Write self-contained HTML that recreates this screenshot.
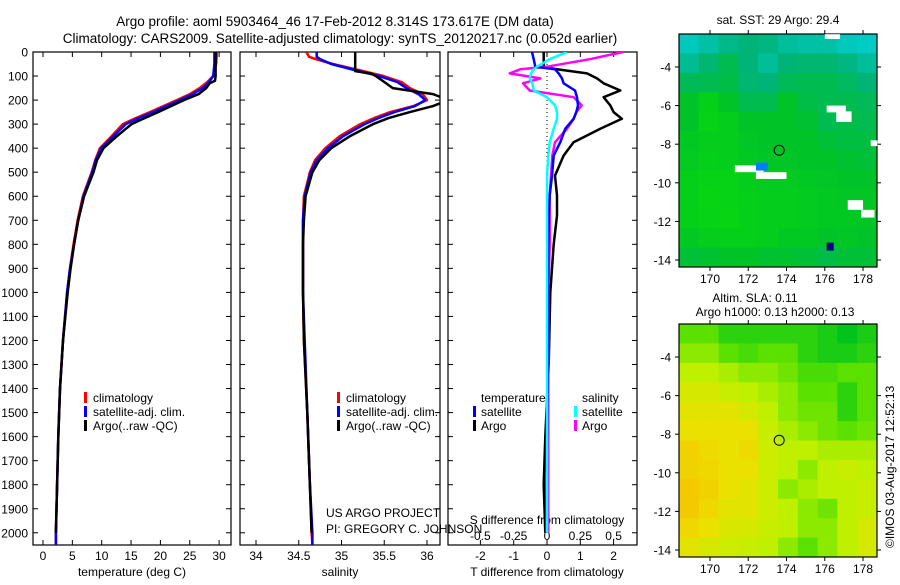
<!DOCTYPE html>
<html><head><meta charset="utf-8"><style>
body{margin:0;background:#fff;}
svg text{font-family:"Liberation Sans",sans-serif;fill:#000;}
</style></head><body>
<svg id="fig" width="900" height="580" xmlns="http://www.w3.org/2000/svg">
<text x="335" y="26" font-size="13.5" text-anchor="middle">Argo profile: aoml 5903464_46 17-Feb-2012 8.314S 173.617E (DM data)</text>
<text x="340" y="43" font-size="13.5" text-anchor="middle">Climatology: CARS2009. Satellite-adjusted climatology: synTS_20120217.nc (0.052d earlier)</text>
<g id="g"></g>
</svg>
<script>
// ---- profile data ----
const depths=[0,50,100,125,150,175,200,225,250,275,300,350,400,450,500,600,700,800,900,1000,1200,1400,1600,1800,2000,2050];
const tempClim=[29.6,29.5,29.0,28.0,26.7,25,22.8,20.5,18.2,15.8,13.6,11.7,9.7,8.9,8.3,6.8,5.9,5.2,4.6,4.1,3.4,2.9,2.6,2.4,2.2,2.2];
const tempSat=[29.2,29.2,29.0,28.3,27.2,25.5,23.3,21,18.7,16.3,14.1,12.0,9.9,9.0,8.4,6.9,6.0,5.3,4.6,4.1,3.4,2.9,2.6,2.4,2.2,2.2];
const argoDepths=[0,50,100,120,130,150,175,200,225,250,275,300,350,400,450,500,600,700,800,900,1000,1200,1400,1600,1800,2000];
const tempArgo=[29.4,29.4,29.4,29.3,28.4,27.8,26.5,24.0,21.8,19.6,17.3,15.1,12.6,10.3,9.2,8.6,7.0,6.0,5.3,4.7,4.2,3.4,2.9,2.6,2.4,2.2];
const salDepths=[0,20,30,50,75,100,125,150,175,200,225,250,275,300,350,400,450,500,600,700,800,1000,1200,1500,1800,2000,2050];
const salClim=[34.59,34.62,34.7,34.9,35.2,35.49,35.7,35.8,35.95,36.0,35.84,35.57,35.38,35.22,34.98,34.81,34.69,34.63,34.56,34.55,34.55,34.55,34.56,34.6,34.63,34.65,34.66];
const salSat=[34.71,34.71,34.75,34.88,35.15,35.44,35.65,35.76,35.9,35.98,35.86,35.62,35.43,35.27,35.02,34.84,34.71,34.64,34.57,34.55,34.55,34.55,34.57,34.6,34.63,34.66,34.66];
const argoSalDepths=[0,80,90,100,125,150,175,200,225,250,275,300,350,400,450,500,600,700,800,1000,1200,1500,1800,2000];
const salArgo=[35.16,35.16,35.35,35.4,35.5,35.6,36.07,36.25,36.07,35.8,35.55,35.37,35.1,34.88,34.74,34.66,34.58,34.56,34.55,34.55,34.56,34.6,34.63,34.65];
const diffDepths=[0,30,61,72,89,110,130,160,188,222,250,278,319,375,431,514,597,681,800,1000,1300,1600,1800,2000];
const dTSat=[-0.45,-0.4,-0.35,0.24,0.35,0.45,0.5,0.84,0.9,0.93,0.88,0.8,0.55,0.4,0.2,0.15,0.08,0.05,0.04,0.03,0.02,0.0,-0.02,-0.02];
const dTArgo=[-0.1,-0.1,-0.1,0.3,1.2,1.5,1.7,2.2,1.7,1.9,2.0,2.25,1.6,0.8,0.5,0.24,0.3,0.3,0.2,0.1,0.05,-0.05,-0.1,-0.05];
const dSSat=[0.15,0.02,-0.075,-0.1,-0.12,-0.13,-0.11,-0.1,0,0.06,0.075,0.075,0.05,0.02,0.01,0.0,0.0,0.0,0.0,0.0,0.0,0.0,0.0,0.0];
const dSArgo=[0.57,0.32,0.0,-0.2,-0.28,-0.05,-0.18,-0.13,0.2,0.26,0.22,0.2,0.15,0.06,0.04,0.03,0.02,0.02,0.02,0.01,0.01,0.01,0.01,0.01];
const depthTicks=[0,100,200,300,400,500,600,700,800,900,1000,1100,1200,1300,1400,1500,1600,1700,1800,1900,2000];
const tempTicks=[0,5,10,15,20,25,30];
const salTicks=[34,34.5,35,35.5,36];
const dTTicks=[-2,-1,0,1,2];
const dSTicks=[-0.5,-0.25,0,0.25,0.5];
const dSTickLabels=["-0.5","-0.25","0","0.25","0.5"];
// ---- map data ----
const lonTicks=[170,172,174,176,178];
const latTicks=[-4,-6,-8,-10,-12,-14];
const argoLon=173.617, argoLat=-8.314;
const sstGrid=[
[2.8,2.5,2.2,2.0,2.1,2.4,2.5,2.5,2.8,2.9],
[2.3,1.9,1.5,2.0,2.4,2.0,1.9,1.9,2.1,2.4],
[1.6,1.5,1.4,1.9,2.0,1.6,1.5,1.5,1.7,2.0],
[1,0.5,1,1.5,1.5,1,1.4,1.5,1.5,1.6],
[1,0.4,0.6,1,1,1,1.1,1.5,1.4,1.5],
[0.8,0.6,0.6,0.9,1,1,1,1.2,1.3,1.3],
[0.7,0.5,0.6,0.8,0.9,0.9,1,1,1.1,1.2],
[0.5,0.4,0.4,0.6,0.7,0.7,0.8,0.9,1,1],
[0.5,0.3,0.4,0.5,0.6,0.6,0.7,0.8,0.9,0.9],
[0.5,0.4,0.3,0.5,0.6,0.6,0.7,0.8,0.8,0.9],
[0.8,0.6,0.5,0.5,0.6,0.8,0.8,1,0.9,1],
[1.2,1.1,1,1,1.1,1.1,1.2,1.4,1.2,1.2]];
const slaGrid=[
[1,1,0.5,0.5,0.5,0.5,0.5,0.3,0,0.3],
[1.5,1.5,1,0.8,1,1,0.5,0.3,0.3,0.5],
[2,2,1.8,1.5,1.5,1.2,0.8,0.8,1,1],
[2.5,2.5,2.2,2,1.8,1.5,1,1,0.5,1],
[2.8,2.8,2.8,2.5,2,1.5,1.2,1.2,0.5,1],
[3,3,3,3,2.2,1.8,1.5,1.2,1,1.2],
[3.5,3.2,3,3.2,2.3,2,2,1.8,1.8,1.8],
[3.5,3.3,3,3,2.3,2,1.5,2,2.2,2],
[3.8,3.5,3,2.8,2.3,1.5,1.8,2,2,2.2],
[3.8,3.3,2.8,2.8,2.3,2,1.5,1.2,2,2.2],
[3.3,3,2.6,2.5,2.2,2,1.5,1.5,2,2.5],
[2.8,2.5,2.3,2.2,2,1.5,1,1.5,2,2.5]];
const sstGaps=[[171.3,-9.1,1.5,0.35],[172.4,-9.45,1.6,0.35],[176.1,-6.0,1.0,0.35],[176.6,-6.3,0.8,0.55],[177.2,-10.9,0.8,0.5],[177.9,-11.4,0.7,0.4],[176,-2.3,0.8,0.25],[178.4,-7.8,0.35,0.3]];

const NS="http://www.w3.org/2000/svg";
const G=document.getElementById('g');
function mk(tag,attrs,name,parent){const e=document.createElementNS(NS,tag);for(const k in attrs)e.setAttribute(k,attrs[k]);


(parent||G).appendChild(e);return e;}
function txt(x,y,s,name,opt){const t=mk('text',Object.assign({x:x,y:y,'font-size':12},opt||{}),name);t.textContent=s;return t;}
const yD=d=>52+d*0.2404;
const PT=52,PB=545;
function frame(l,r,name){mk('rect',{x:l,y:PT,width:r-l,height:PB-PT,fill:'none',stroke:'#000','stroke-width':1.2},name);}
function line(xs,ds,fx,color,name,w){let p='';for(let i=0;i<xs.length;i++){p+=(i?'L':'M')+fx(xs[i]).toFixed(1)+','+yD(ds[i]).toFixed(1);}
mk('path',{d:p,fill:'none',stroke:color,'stroke-width':w||2.5,'stroke-linejoin':'round'},name);}
// panel 1
const xT=t=>43+t*5.87;
frame(33,231,'temperature-panel-frame');
depthTicks.forEach(d=>{mk('line',{x1:33,x2:38,y1:yD(d),y2:yD(d),stroke:'#000'},'depth-tick');mk('line',{x1:226,x2:231,y1:yD(d),y2:yD(d),stroke:'#000'},'depth-tick-right');
txt(28,yD(d)+4.5,String(d),'depth-tick-label',{'text-anchor':'end'});});
tempTicks.forEach(t=>{mk('line',{x1:xT(t),x2:xT(t),y1:PT,y2:PT+5,stroke:'#000'},'temp-tick-top');mk('line',{x1:xT(t),x2:xT(t),y1:PB,y2:PB-5,stroke:'#000'},'temp-tick');
txt(xT(t),560,String(t),'temp-tick-label',{'text-anchor':'middle'});});
txt(132,576,'temperature (deg C)','x-axis-title-temperature',{'text-anchor':'middle'});
line(tempClim,depths,xT,'#ff0000','temp-climatology-line');
line(tempSat,depths,xT,'#0000ff','temp-satellite-line');
line(tempArgo,argoDepths,xT,'#000000','temp-argo-line');
function legend(x,name){[['#ff0000','climatology'],['#0000ff','satellite-adj. clim.'],['#000000','Argo(..raw -QC)']].forEach((e,i)=>{
mk('rect',{x:x,y:392+i*14,width:3,height:11,fill:e[0]},name+'-marker');txt(x+9,402+i*14,e[1],name+'-label');});}
legend(84,'temp-legend');
// panel 2
const xS=s=>256+(s-34)*85.5;
frame(240,440,'salinity-panel-frame');
depthTicks.forEach(d=>{mk('line',{x1:240,x2:245,y1:yD(d),y2:yD(d),stroke:'#000'},'sal-depth-tick');mk('line',{x1:435,x2:440,y1:yD(d),y2:yD(d),stroke:'#000'},'sal-depth-tick-right');});
salTicks.forEach(s=>{mk('line',{x1:xS(s),x2:xS(s),y1:PT,y2:PT+5,stroke:'#000'},'sal-tick-top');mk('line',{x1:xS(s),x2:xS(s),y1:PB,y2:PB-5,stroke:'#000'},'sal-tick');
txt(xS(s),560,String(s),'sal-tick-label',{'text-anchor':'middle'});});
txt(340,576,'salinity','x-axis-title-salinity',{'text-anchor':'middle'});
const svgEl=document.getElementById('fig');
const cp=mk('clipPath',{id:'c2'},'sal-clip',svgEl);mk('rect',{x:240,y:PT,width:200,height:PB-PT},'sal-clip-rect',cp);
const cp3=mk('clipPath',{id:'c3'},'diff-clip',svgEl);mk('rect',{x:448,y:PT,width:189,height:PB-PT},'diff-clip-rect',cp3);
const g2=mk('g',{'clip-path':'url(#c2)'},'sal-lines');
function lineIn(par,xs,ds,fx,color,name){let p='';for(let i=0;i<xs.length;i++){p+=(i?'L':'M')+fx(xs[i]).toFixed(1)+','+yD(ds[i]).toFixed(1);}
mk('path',{d:p,fill:'none',stroke:color,'stroke-width':2.5,'stroke-linejoin':'round'},name,par);}
lineIn(g2,salClim,salDepths,xS,'#ff0000','sal-climatology-line');
lineIn(g2,salSat,salDepths,xS,'#0000ff','sal-satellite-line');
lineIn(g2,salArgo,argoSalDepths,xS,'#000000','sal-argo-line');
legend(337,'sal-legend');
txt(326,517,'US ARGO PROJECT','credit-project');
txt(326,533,'PI: GREGORY C. JOHNSON','credit-pi');
// panel 3
const xdT=v=>547+v*33.3, xdS=v=>547+v*133.3;
frame(448,637,'difference-panel-frame');
depthTicks.forEach(d=>{mk('line',{x1:448,x2:453,y1:yD(d),y2:yD(d),stroke:'#000'},'diff-depth-tick');mk('line',{x1:632,x2:637,y1:yD(d),y2:yD(d),stroke:'#000'},'diff-depth-tick-right');});
dTTicks.forEach(v=>{mk('line',{x1:xdT(v),x2:xdT(v),y1:PB,y2:PB-5,stroke:'#000'},'dT-tick');txt(xdT(v),560,String(v),'dT-tick-label',{'text-anchor':'middle'});});
dSTicks.forEach((v,i)=>{mk('line',{x1:xdS(v),x2:xdS(v),y1:PT,y2:PT+5,stroke:'#000'},'dS-tick');txt(xdS(v),540,dSTickLabels[i],'dS-tick-label',{'text-anchor':'middle'});});
txt(547,576,'T difference from climatology','x-axis-title-t-diff',{'text-anchor':'middle'});
txt(547,524,'S difference from climatology','axis-title-s-diff',{'text-anchor':'middle'});
mk('line',{x1:xdT(0),x2:xdT(0),y1:PT,y2:yD(500),stroke:'#000','stroke-dasharray':'1,3'},'zero-line');
const g3=mk('g',{'clip-path':'url(#c3)'},'diff-lines');
lineIn(g3,dTArgo,diffDepths,xdT,'#000000','dT-argo-line');
lineIn(g3,dSArgo,diffDepths,xdS,'#ff00ff','dS-argo-line');
lineIn(g3,dTSat,diffDepths,xdT,'#0000ff','dT-satellite-line');
lineIn(g3,dSSat,diffDepths,xdS,'#00ffff','dS-satellite-line');
txt(481,402,'temperature','diff-legend-temperature');
txt(582,402,'salinity','diff-legend-salinity');
mk('rect',{x:473,y:406,width:3,height:11,fill:'#0000ff'},'legend-marker-t-sat');txt(481,416,'satellite','legend-label-t-sat');
mk('rect',{x:473,y:420,width:3,height:11,fill:'#000'},'legend-marker-t-argo');txt(481,430,'Argo','legend-label-t-argo');
mk('rect',{x:574,y:406,width:3,height:11,fill:'#00ffff'},'legend-marker-s-sat');txt(582,416,'satellite','legend-label-s-sat');
mk('rect',{x:574,y:420,width:3,height:11,fill:'#ff00ff'},'legend-marker-s-argo');txt(582,430,'Argo','legend-label-s-argo');
// maps
const LON0=168.38;
const mx=lon=>679+(lon-LON0)*19.13;
function lerp(pal,v){const i=Math.max(0,Math.min(pal.length-1.001,v));const a=Math.floor(i),f=i-a;const c0=pal[a],c1=pal[a+1];
return 'rgb('+c0.map((c,k)=>Math.round(c+(c1[k]-c)*f)).join(',')+')';}
const sstPal=[[10,220,10],[0,195,40],[0,180,120],[0,205,205]];
const slaPal=[[0,195,30],[90,225,0],[190,240,0],[235,225,0],[245,195,0]];
function map(top,grid,pal,name){const bot=top+233;const my=lat=>top+33+(-4-lat)*19.3;
const rows=grid.length,cols=grid[0].length,cw=198/cols,ch=233/rows;
grid.forEach((row,r)=>row.forEach((v,c)=>{mk('rect',{x:679+c*cw,y:top+r*ch,width:cw+0.5,height:ch+0.5,fill:lerp(pal,v)},name+'-cell');}));
mk('rect',{x:679,y:top,width:198,height:233,fill:'none',stroke:'#000','stroke-width':1.2},name+'-frame');
lonTicks.forEach(l=>{mk('line',{x1:mx(l),x2:mx(l),y1:top,y2:top-4,stroke:'#000'},name+'-lon-tick-top');mk('line',{x1:mx(l),x2:mx(l),y1:bot,y2:bot+4,stroke:'#000'},name+'-lon-tick');
txt(mx(l),bot+16,String(l),name+'-lon-label',{'text-anchor':'middle'});});
latTicks.forEach(l=>{mk('line',{x1:675,x2:679,y1:my(l),y2:my(l),stroke:'#000'},name+'-lat-tick');mk('line',{x1:877,x2:881,y1:my(l),y2:my(l),stroke:'#000'},name+'-lat-tick-right');
txt(671,my(l)+4.5,String(l),name+'-lat-label',{'text-anchor':'end'});});
mk('circle',{cx:mx(argoLon),cy:my(argoLat),r:5,fill:'none',stroke:'#000','stroke-width':1},name+'-argo-location');
return my;}
const my1=map(34,sstGrid,sstPal,'sst-map');
sstGaps.forEach(g=>{mk('rect',{x:mx(g[0]),y:my1(g[1]),width:g[2]*19.13,height:g[3]*19.3,fill:'#fff'},'sst-missing-data');});
mk('rect',{x:mx(172.4),y:my1(-8.95),width:12,height:8,fill:'#0080ff'},'sst-cool-patch');
mk('rect',{x:mx(176.1),y:my1(-13.1),width:7,height:8,fill:'#000080'},'sst-cool-patch-2');
map(324,slaGrid,slaPal,'sla-map');
txt(778,24,'sat. SST: 29 Argo: 29.4','sst-map-title',{'text-anchor':'middle'});
txt(755,302,'Altim. SLA: 0.11','sla-map-title',{'text-anchor':'middle'});
txt(775,316,'Argo h1000: 0.13 h2000: 0.13','sla-map-subtitle',{'text-anchor':'middle'});
txt(0,0,'©IMOS 03-Aug-2017 12:52:13','imos-credit',{transform:'translate(894,548) rotate(-90)'});
</script>
</body></html>
